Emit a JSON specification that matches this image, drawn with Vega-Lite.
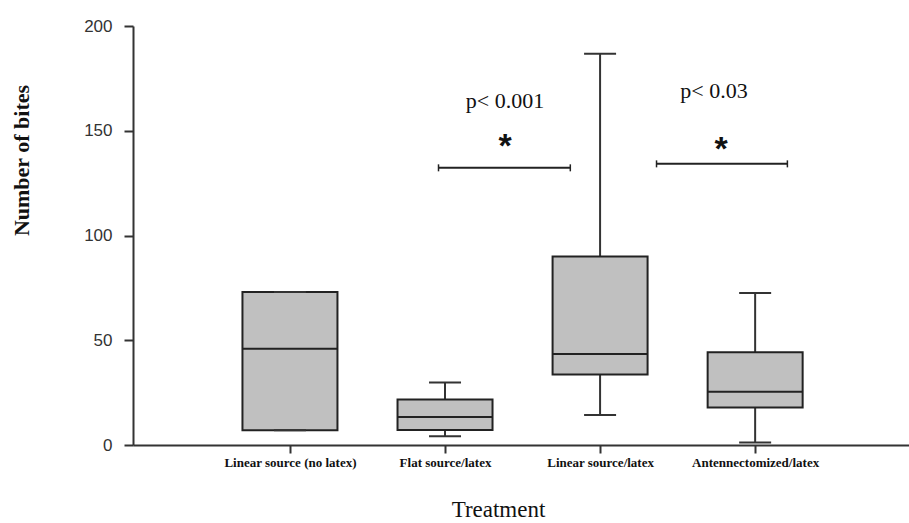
{
  "$schema": "https://vega.github.io/schema/vega-lite/v6.json",
  "width": 776,
  "height": 419,
  "autosize": "none",
  "padding": {"left": 133, "top": 26, "right": 0, "bottom": 78},
  "background": "white",
  "config": {"view": {"stroke": null}},
  "datasets": {
    "boxes": [
      {"treatment": "Linear source (no latex)", "pos": 1, "min": 7, "q1": 7, "median": 46, "q3": 73, "max": 73},
      {"treatment": "Flat source/latex", "pos": 2, "min": 4.2, "q1": 7.2, "median": 13.4, "q3": 21.7, "max": 29.8},
      {"treatment": "Linear source/latex", "pos": 3, "min": 14.3, "q1": 33.6, "median": 43.4, "q3": 90, "max": 186.8},
      {"treatment": "Antennectomized/latex", "pos": 4, "min": 1.2, "q1": 17.9, "median": 25.4, "q3": 44.3, "max": 72.6}
    ],
    "brackets": [
      {"x1": 1.958, "x2": 2.808, "y": 132.3},
      {"x1": 3.364, "x2": 4.208, "y": 134.2}
    ],
    "labels": [
      {"x": 2.387, "y": 164.3, "text": "p< 0.001", "kind": "p"},
      {"x": 3.735, "y": 169, "text": "p< 0.03", "kind": "p"},
      {"x": 2.387, "y": 145, "text": "*", "kind": "star"},
      {"x": 3.78, "y": 143.8, "text": "*", "kind": "star"}
    ]
  },
  "layer": [
    {
      "data": {"name": "boxes"},
      "mark": {"type": "rule", "color": "#333333", "strokeWidth": 2},
      "encoding": {
        "x": {
          "field": "pos", "type": "quantitative",
          "scale": {"domain": [0.02, 4.96], "nice": false, "zero": false},
          "axis": {
            "values": [1, 2, 3, 4],
            "labelExpr": "datum.value == 1 ? 'Linear source (no latex)' : datum.value == 2 ? 'Flat source/latex' : datum.value == 3 ? 'Linear source/latex' : 'Antennectomized/latex'",
            "grid": false,
            "domainColor": "#333333", "domainWidth": 2,
            "tickColor": "#333333", "tickWidth": 2, "tickSize": 8,
            "labelFont": "Liberation Serif", "labelFontSize": 13, "labelFontWeight": "bold", "labelColor": "#111111",
            "labelPadding": 3,
            "title": "Treatment",
            "titleFont": "Liberation Serif", "titleFontSize": 23, "titleFontWeight": "normal", "titleColor": "#111111",
            "titleX": 365, "titleY": 71, "titleBaseline": "alphabetic", "titleAnchor": null
          }
        },
        "y": {
          "field": "min", "type": "quantitative",
          "scale": {"domain": [0, 200], "nice": false},
          "axis": {
            "values": [0, 50, 100, 150, 200],
            "grid": false,
            "domainColor": "#333333", "domainWidth": 2,
            "tickColor": "#333333", "tickWidth": 2, "tickSize": 9,
            "labelFont": "Liberation Sans", "labelFontSize": 17, "labelColor": "#333333",
            "labelPadding": 12,
            "title": "Number of bites",
            "titleFont": "Liberation Serif", "titleFontSize": 22, "titleFontWeight": "bold", "titleColor": "#111111",
            "titleX": -112, "titleY": 134, "titleAngle": -90, "titleAlign": "center", "titleBaseline": "middle", "titleAnchor": null
          }
        },
        "y2": {"field": "q1"}
      }
    },
    {
      "data": {"name": "boxes"},
      "mark": {"type": "rule", "color": "#333333", "strokeWidth": 2},
      "encoding": {
        "x": {"field": "pos", "type": "quantitative"},
        "y": {"field": "q3", "type": "quantitative"},
        "y2": {"field": "max"}
      }
    },
    {
      "data": {"name": "boxes"},
      "mark": {"type": "bar", "size": 95, "fill": "#c0c0c0", "stroke": "#222222", "strokeWidth": 2, "orient": "vertical"},
      "encoding": {
        "x": {"field": "pos", "type": "quantitative"},
        "y": {"field": "q1", "type": "quantitative"},
        "y2": {"field": "q3"}
      }
    },
    {
      "data": {"name": "boxes"},
      "mark": {"type": "tick", "orient": "horizontal", "size": 95, "thickness": 2, "color": "#222222", "opacity": 1},
      "encoding": {
        "x": {"field": "pos", "type": "quantitative"},
        "y": {"field": "median", "type": "quantitative"}
      }
    },
    {
      "data": {"name": "boxes"},
      "mark": {"type": "tick", "orient": "horizontal", "size": 32, "thickness": 2, "color": "#333333", "opacity": 1},
      "encoding": {
        "x": {"field": "pos", "type": "quantitative"},
        "y": {"field": "max", "type": "quantitative"}
      }
    },
    {
      "data": {"name": "boxes"},
      "mark": {"type": "tick", "orient": "horizontal", "size": 32, "thickness": 2, "color": "#333333", "opacity": 1},
      "encoding": {
        "x": {"field": "pos", "type": "quantitative"},
        "y": {"field": "min", "type": "quantitative"}
      }
    },
    {
      "data": {"name": "brackets"},
      "mark": {"type": "rule", "color": "#222222", "strokeWidth": 2},
      "encoding": {
        "x": {"field": "x1", "type": "quantitative"},
        "x2": {"field": "x2"},
        "y": {"field": "y", "type": "quantitative"}
      }
    },
    {
      "data": {"name": "brackets"},
      "mark": {"type": "tick", "orient": "vertical", "size": 7, "thickness": 1.5, "color": "#222222", "opacity": 1},
      "encoding": {
        "x": {"field": "x1", "type": "quantitative"},
        "y": {"field": "y", "type": "quantitative"}
      }
    },
    {
      "data": {"name": "brackets"},
      "mark": {"type": "tick", "orient": "vertical", "size": 7, "thickness": 1.5, "color": "#222222", "opacity": 1},
      "encoding": {
        "x": {"field": "x2", "type": "quantitative"},
        "y": {"field": "y", "type": "quantitative"}
      }
    },
    {
      "data": {"name": "labels"},
      "transform": [{"filter": "datum.kind == 'p'"}],
      "mark": {"type": "text", "font": "Liberation Serif", "fontSize": 22, "color": "#111111", "align": "center", "baseline": "middle"},
      "encoding": {
        "x": {"field": "x", "type": "quantitative"},
        "y": {"field": "y", "type": "quantitative"},
        "text": {"field": "text"}
      }
    },
    {
      "data": {"name": "labels"},
      "transform": [{"filter": "datum.kind == 'star'"}],
      "mark": {"type": "text", "font": "Liberation Sans", "fontSize": 34, "fontWeight": "bold", "color": "#111111", "align": "center", "baseline": "middle", "dy": 6},
      "encoding": {
        "x": {"field": "x", "type": "quantitative"},
        "y": {"field": "y", "type": "quantitative"},
        "text": {"field": "text"}
      }
    }
  ]
}
